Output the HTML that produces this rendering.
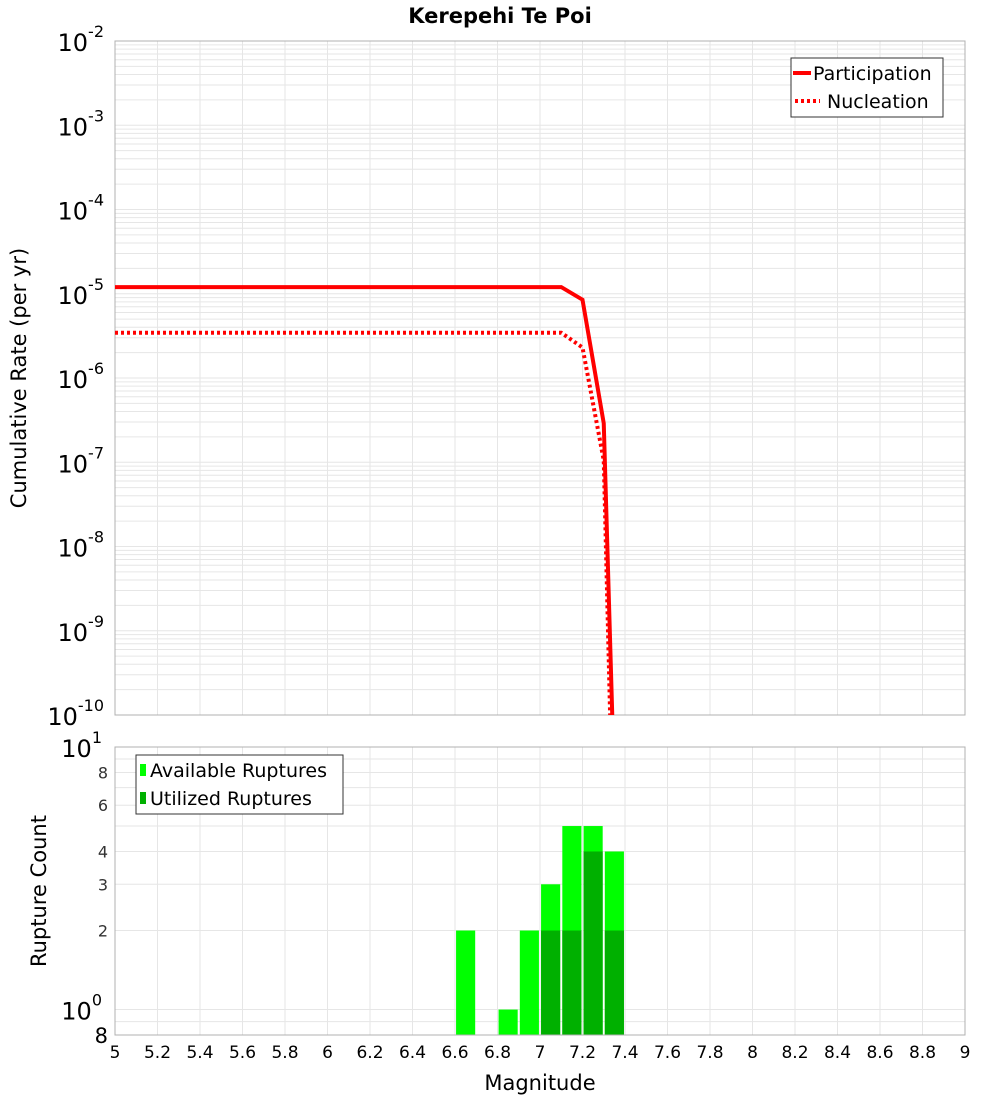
<!DOCTYPE html>
<html><head><meta charset="utf-8"><style>
body{margin:0;background:#fff;}
svg text{font-family:"DejaVu Sans","Liberation Sans",sans-serif;}
</style></head><body>
<svg id="c" width="1000" height="1100" viewBox="0 0 1000 1100" xmlns="http://www.w3.org/2000/svg">
<text x="500" y="23" text-anchor="middle" font-size="21" font-weight="bold">Kerepehi Te Poi</text>
<g id="topg"></g><g id="botg"></g>
</svg>
<script>
const NS="http://www.w3.org/2000/svg";
const magTicks=[5,5.2,5.4,5.6,5.8,6,6.2,6.4,6.6,6.8,7,7.2,7.4,7.6,7.8,8,8.2,8.4,8.6,8.8,9];
const rateExps=[-2,-3,-4,-5,-6,-7,-8,-9,-10];
const partMags=[5,7.1,7.2,7.3,7.34];
const partRates=[1.2e-5,1.2e-5,8.5e-6,2.9e-7,1e-10];
const nuclMags=[5,7.1,7.2,7.3,7.33];
const nuclRates=[3.45e-6,3.45e-6,2.3e-6,1.05e-7,1e-10];
const binMags=[6.65,6.75,6.85,6.95,7.05,7.15,7.25,7.35];
const availCounts=[2,0,1,2,3,5,5,4];
const usedCounts=[0,0,0,0,2,2,4,2];
const countTicks=[8,6,4,3,2];

const L=115,R=965,T1=41,B1=715,T2=747,B2=1035;
const x=m=>L+(m-5)/4*(R-L);
const y1=v=>T1+(-2-Math.log10(v))/8*(B1-T1);
const y2=v=>T2+(1-Math.log10(v))/(1-Math.log10(0.8))*(B2-T2);
function el(p,tag,a,txt){const e=document.createElementNS(NS,tag);for(const k in a)e.setAttribute(k,a[k]);if(txt!==undefined)e.textContent=txt;p.appendChild(e);return e;}
const topG=document.getElementById('topg'),botG=document.getElementById('botg');

for(let d=-10;d<-2;d++)for(let k=1;k<10;k++){const yy=y1(k*Math.pow(10,d));
 const g=el(topG,'line',{x1:L,x2:R,y1:yy,y2:yy,stroke:'#e6e6e6','stroke-width':1});
 }
magTicks.forEach(m=>{const g=el(topG,'line',{x1:x(m),x2:x(m),y1:T1,y2:B1,stroke:'#e6e6e6'});
 
 const h=el(botG,'line',{x1:x(m),x2:x(m),y1:T2,y2:B2,stroke:'#e6e6e6'});
 });
const f1=el(topG,'rect',{x:L,y:T1,width:R-L,height:B1-T1,fill:'none',stroke:'#b0b0b0'});

rateExps.forEach(e=>{const t=el(topG,'text',{x:104,y:y1(Math.pow(10,e))+10,'text-anchor':'end','font-size':24});
 
 t.appendChild(document.createTextNode('10'));el(t,'tspan',{dy:-14,'font-size':16},String(e));});
const yt=el(topG,'text',{x:26,y:378,'text-anchor':'middle','font-size':21,transform:'rotate(-90 26 378)'},'Cumulative Rate (per yr)');

const clip=el(topG,'clipPath',{id:'cp'});el(clip,'rect',{x:L,y:T1,width:R-L,height:B1-T1+3});
const pl=el(topG,'polyline',{points:partMags.map((m,i)=>x(m)+','+y1(partRates[i])).join(' '),fill:'none',stroke:'#ff0000','stroke-width':4,'clip-path':'url(#cp)'});

const nl=el(topG,'polyline',{points:nuclMags.map((m,i)=>x(m)+','+y1(nuclRates[i])).join(' '),fill:'none',stroke:'#ff0000','stroke-width':4,'stroke-dasharray':'3 3','clip-path':'url(#cp)'});

const lg=el(topG,'g',{});
el(lg,'rect',{x:791,y:58,width:152,height:59,fill:'#fff',stroke:'#333'});
el(lg,'line',{x1:793,x2:811,y1:73,y2:73,stroke:'#f00','stroke-width':4});
el(lg,'text',{x:813,y:80,'font-size':19},'Participation');
el(lg,'line',{x1:795,x2:820,y1:101,y2:101,stroke:'#f00','stroke-width':4,'stroke-dasharray':'3 3'});
el(lg,'text',{x:827,y:108,'font-size':19},'Nucleation');

[1,2,3,4,5,6,7,8,9,10,0.8,0.9].forEach(v=>{const g=el(botG,'line',{x1:L,x2:R,y1:y2(v),y2:y2(v),stroke:'#e6e6e6'});
 });
binMags.forEach((m,i)=>{const w=(x(5.09)-L);
 if(availCounts[i]>0){const b=el(botG,'rect',{x:x(m)-w/2,y:y2(availCounts[i]),width:w,height:B2-y2(availCounts[i]),fill:'#00ff00'});
  }
 if(usedCounts[i]>0){const b=el(botG,'rect',{x:x(m)-w/2,y:y2(usedCounts[i]),width:w,height:B2-y2(usedCounts[i]),fill:'#00b000'});
  }});
const f2=el(botG,'rect',{x:L,y:T2,width:R-L,height:B2-T2,fill:'none',stroke:'#b0b0b0'});

countTicks.forEach(v=>{const t=el(botG,'text',{x:108,y:y2(v)+6,'text-anchor':'end','font-size':16,fill:'#333'},String(v));
 });
[[1,'0'],[10,'1']].forEach(([v,e])=>{const t=el(botG,'text',{x:102,y:y2(v)+10,'text-anchor':'end','font-size':24});
 
 t.appendChild(document.createTextNode('10'));el(t,'tspan',{dy:-14,'font-size':16},e);});
const t8=el(botG,'text',{x:108,y:1043,'text-anchor':'end','font-size':21},'8');

const yt2=el(botG,'text',{x:46,y:891,'text-anchor':'middle','font-size':21,transform:'rotate(-90 46 891)'},'Rupture Count');

magTicks.forEach(m=>{const t=el(botG,'text',{x:x(m),y:1058,'text-anchor':'middle','font-size':17},String(m));
 });
const xt=el(botG,'text',{x:540,y:1090,'text-anchor':'middle','font-size':21},'Magnitude');

const lg2=el(botG,'g',{});
el(lg2,'rect',{x:136,y:755,width:207,height:59,fill:'#fff',stroke:'#333'});
el(lg2,'rect',{x:140,y:764,width:6,height:12,fill:'#00ff00'});
el(lg2,'text',{x:150,y:777,'font-size':19},'Available Ruptures');
el(lg2,'rect',{x:140,y:792,width:6,height:12,fill:'#00b000'});
el(lg2,'text',{x:150,y:805,'font-size':19},'Utilized Ruptures');
</script>
</body></html>
